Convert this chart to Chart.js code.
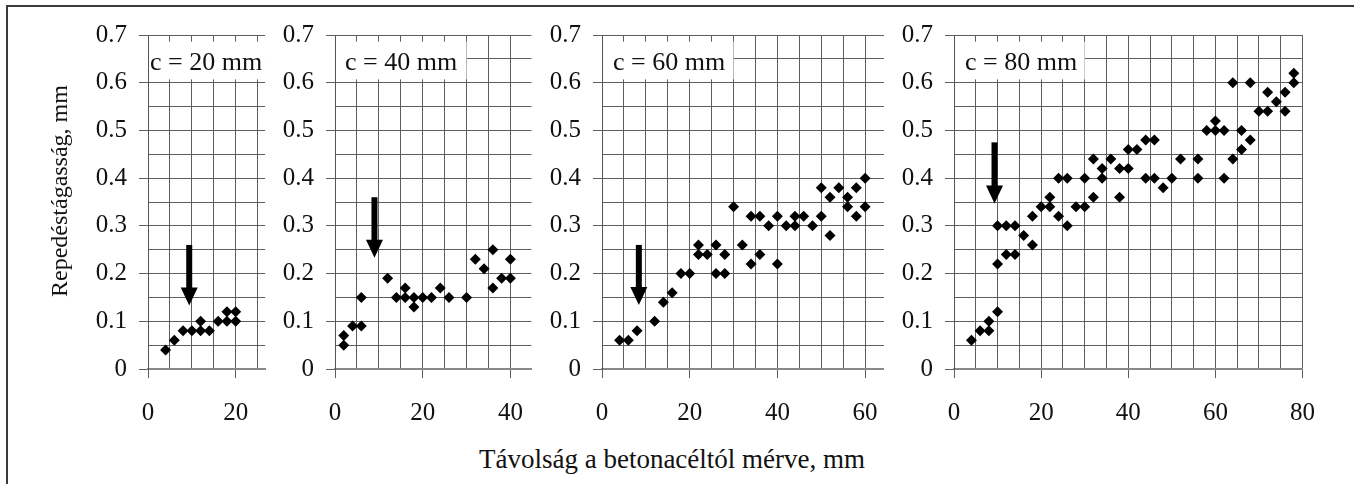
<!DOCTYPE html>
<html lang="hu">
<head>
    <meta charset="UTF-8">
    <title>Repedéstágasság</title>
    <script src="https://cdn.jsdelivr.net/npm/chart.js@4.4.2/dist/chart.umd.min.js"></script>
    <style>
        html, body { margin: 0; padding: 0; background: #fff; }
        body {
            width: 1354px; height: 484px; position: relative; overflow: hidden;
            font-family: "Liberation Serif", "Times New Roman", serif; color: #111;
        }
        .frame {
            position: absolute; left: 6px; top: 5px; width: 1400px; height: 500px;
            border-left: 2px solid #3a3a3a; border-top: 2px solid #3a3a3a;
        }
        .panel { position: absolute; top: 0; }
        .ylabel {
            position: absolute; left: 59px; top: 191px; font-size: 24px; line-height: 1;
            white-space: nowrap; transform: translate(-50%, -50%) rotate(-90deg);
        }
        .xlabel {
            position: absolute; left: 672px; top: 446px; font-size: 27px; line-height: 27px;
            white-space: nowrap; transform: translateX(-50%);
        }
    </style>
</head>
<body>
    <div class="frame"></div>
    <div id="panels"></div>
    <div class="ylabel">Repedéstágasság, mm</div>
    <div class="xlabel">Távolság a betonacéltól mérve, mm</div>

    <script>
        // Panel labels and axis ranges
        const panelLabels = ['c = 20 mm', 'c = 40 mm', 'c = 60 mm', 'c = 80 mm'];
        const xMax = [26.7, 44.8, 64.3, 80];
        const yMax = 0.7;

        // Measured crack widths (x: distance in mm, y: crack width in mm)
        const c20x = [4, 6, 8, 10, 12, 12, 14, 16, 18, 18, 20, 20];
        const c20y = [0.04, 0.06, 0.08, 0.08, 0.08, 0.10, 0.08, 0.10, 0.10, 0.12, 0.10, 0.12];

        const c40x = [2, 2, 4, 6, 6, 12, 14, 16, 16, 18, 18, 20, 22, 24, 26, 30, 32, 34, 36, 36, 38, 40, 40];
        const c40y = [0.05, 0.07, 0.09, 0.09, 0.15, 0.19, 0.15, 0.17, 0.15, 0.13, 0.15, 0.15, 0.15, 0.17, 0.15, 0.15, 0.23, 0.21, 0.25, 0.17, 0.19, 0.23, 0.19];

        const c60x = [4, 6, 8, 12, 14, 16, 18, 20, 22, 22, 24, 26, 26, 28, 28, 30, 32, 34, 34, 36, 36, 38,
                      40, 40, 42, 44, 44, 46, 48, 50, 50, 52, 52, 54, 56, 56, 58, 58, 60, 60];
        const c60y = [0.06, 0.06, 0.08, 0.10, 0.14, 0.16, 0.20, 0.20, 0.26, 0.24, 0.24, 0.26, 0.20, 0.24, 0.20, 0.34, 0.26, 0.32, 0.22, 0.32, 0.24, 0.30,
                      0.32, 0.22, 0.30, 0.32, 0.30, 0.32, 0.30, 0.38, 0.32, 0.36, 0.28, 0.38, 0.36, 0.34, 0.38, 0.32, 0.40, 0.34];

        const c80x = [4, 6, 8, 8, 10, 10, 10, 12, 12, 14, 14, 16, 18, 18, 20, 22, 22, 24, 24, 26, 26,
                      28, 30, 30, 32, 32, 34, 34, 36, 38, 38, 40, 40, 42, 44, 44, 46, 46, 48, 50, 52,
                      56, 56, 58, 60, 60, 62, 62, 64, 64, 66, 66, 68, 68, 70, 72, 72, 74, 76, 76, 78, 78];
        const c80y = [0.06, 0.08, 0.10, 0.08, 0.12, 0.22, 0.30, 0.30, 0.24, 0.30, 0.24, 0.28, 0.26, 0.32, 0.34, 0.36, 0.34, 0.32, 0.40, 0.40, 0.30,
                      0.34, 0.34, 0.40, 0.36, 0.44, 0.42, 0.40, 0.44, 0.42, 0.36, 0.42, 0.46, 0.46, 0.48, 0.40, 0.48, 0.40, 0.38, 0.40, 0.44,
                      0.44, 0.40, 0.50, 0.52, 0.50, 0.50, 0.40, 0.60, 0.44, 0.50, 0.46, 0.60, 0.48, 0.54, 0.54, 0.58, 0.56, 0.58, 0.54, 0.62, 0.60];

        // Arrows: x position, top and tip (data units)
        const arrowX = [9.4, 9, 8.4, 9.3];
        const arrowTop = [0.26, 0.36, 0.26, 0.475];
        const arrowTip = [0.133, 0.233, 0.134, 0.347];

        const seriesX = [c20x, c40x, c60x, c80x];
        const seriesY = [c20y, c40y, c60y, c80y];

        // Layout (pixels)
        const zeroPx = [148, 335, 602, 954];   // page x of the y axis
        const pxPerUnit = 4.385;
        const AXW = 90, CH = 440, PADR = 30, PADT = 35, AXH = 71;
        const textInset = [1, 9, 10, 10];

        const SERIF = '"Liberation Serif", "Times New Roman", serif';
        Chart.defaults.font.family = SERIF;
        Chart.defaults.color = '#111';

        const GRID = '#5e5e5e';

        const panelDeco = {
            id: 'panelDeco',
            beforeDatasetsDraw(chart, args, opts) {
                const { ctx, scales: { x, y } } = chart;
                const left = x.getPixelForValue(0) + 1;
                const right = x.getPixelForValue(Math.min(30, x.max));
                const top = y.getPixelForValue(0.686);
                const bottom = y.getPixelForValue(0.607);
                ctx.save();
                ctx.fillStyle = '#fff';
                ctx.fillRect(left, top, right - left, bottom - top);
                ctx.fillStyle = '#111';
                ctx.font = '26px ' + SERIF;
                ctx.textBaseline = 'middle';
                ctx.fillText(opts.label, left + opts.inset, y.getPixelForValue(0.64));
                ctx.restore();
            },
            afterDatasetsDraw(chart, args, opts) {
                const { ctx, scales: { x, y } } = chart;
                const ax = x.getPixelForValue(opts.arrow[0]);
                const yTop = y.getPixelForValue(opts.arrow[1]);
                const yTip = y.getPixelForValue(opts.arrow[2]);
                ctx.save();
                ctx.fillStyle = '#000';
                ctx.fillRect(ax - 3, yTop, 6, yTip - yTop - 15);
                ctx.beginPath();
                ctx.moveTo(ax - 8.5, yTip - 18);
                ctx.lineTo(ax + 8.5, yTip - 18);
                ctx.lineTo(ax, yTip);
                ctx.closePath();
                ctx.fill();
                ctx.restore();
            }
        };

        function isMajorY(v) { return Math.round(v * 100) % 10 === 0; }

        const holder = document.getElementById('panels');
        for (let i = 0; i < 4; i++) {
            const plotW = xMax[i] * pxPerUnit;
            const canvas = document.createElement('canvas');
            canvas.className = 'panel';
            canvas.width = Math.round(AXW + plotW + PADR);
            canvas.height = CH;
            canvas.style.left = (zeroPx[i] - AXW) + 'px';
            holder.appendChild(canvas);

            const pts = seriesX[i].map((v, k) => ({ x: v, y: seriesY[i][k] }));

            new Chart(canvas, {
                type: 'scatter',
                data: {
                    datasets: [{
                        data: pts,
                        pointStyle: 'rectRot',
                        pointRadius: 5.5,
                        backgroundColor: '#000',
                        borderWidth: 0
                    }]
                },
                options: {
                    responsive: false,
                    animation: false,
                    layout: { padding: { top: PADT, right: canvas.width - AXW - plotW, bottom: 0, left: 0 } },
                    plugins: {
                        legend: { display: false },
                        tooltip: { enabled: false },
                        panelDeco: {
                            label: panelLabels[i],
                            inset: textInset[i],
                            arrow: [arrowX[i], arrowTop[i], arrowTip[i]]
                        }
                    },
                    scales: {
                        x: {
                            type: 'linear', min: 0, max: xMax[i],
                            afterFit: s => { s.height = AXH; },
                            afterBuildTicks: s => { s.ticks = s.ticks.filter(t => t.value % 5 === 0); },
                            ticks: {
                                stepSize: 5, includeBounds: false, autoSkip: false, maxRotation: 0, padding: 20,
                                font: { size: 25 },
                                callback: v => (v % 20 === 0 ? String(v) : '')
                            },
                            grid: {
                                color: GRID, lineWidth: 1, tickLength: 9,
                                tickColor: c => (c.tick && c.tick.value % 20 === 0 ? GRID : 'rgba(0,0,0,0)')
                            },
                            border: { color: '#888', width: 2 }
                        },
                        y: {
                            type: 'linear', min: 0, max: yMax,
                            afterFit: s => { s.width = AXW; },
                            ticks: {
                                stepSize: 0.05, autoSkip: false, padding: 12,
                                font: { size: 25 },
                                callback: v => (isMajorY(v) ? String(Math.round(v * 10) / 10) : '')
                            },
                            grid: {
                                color: GRID, lineWidth: 1, tickLength: 9,
                                tickColor: c => (c.tick && isMajorY(c.tick.value) ? GRID : 'rgba(0,0,0,0)')
                            },
                            border: { color: '#555', width: 1 }
                        }
                    }
                },
                plugins: [panelDeco]
            });
        }
    </script>
</body>
</html>
